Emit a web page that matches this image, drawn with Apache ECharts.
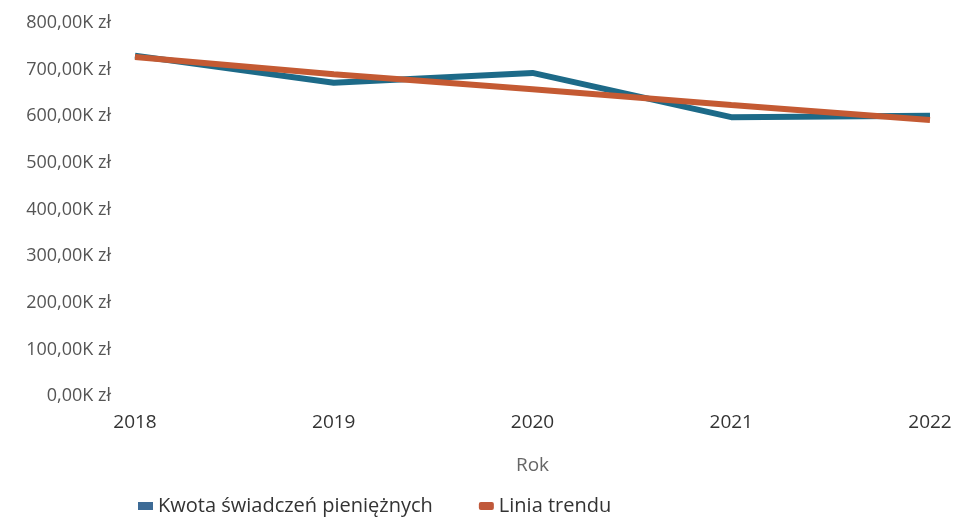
<!DOCTYPE html>
<html><head><meta charset="utf-8">
<script src="https://cdn.jsdelivr.net/npm/echarts@6/dist/echarts.min.js"></script>
<style>html,body{margin:0;padding:0;background:#fff}#c{width:956px;height:521px}</style>
</head><body><div id="c"></div>
<script>
const categories = ['2018','2019','2020','2021','2022'];
const kwota = [730000, 672000, 693000, 598000, 601000];
const trend = [727000, 690000, 658000, 624000, 592000];
const yTicks = [0,100000,200000,300000,400000,500000,600000,700000,800000];

const chart = echarts.init(document.getElementById('c'));
const fmt = v => (v/1000).toFixed(2).replace('.', ',') + 'K zł';
chart.setOption({
  animation:false,
  textStyle:{fontFamily:'Open Sans'},
  grid:{left:135, right:26, top:23, bottom:125, containLabel:false},
  legend:{
    left:133, bottom:0, itemWidth:15, itemHeight:8, itemGap:46,
    textStyle:{fontSize:20, color:'#333', fontFamily:'Open Sans'},
    data:[{name:'Kwota świadczeń pieniężnych', icon:'rect'},{name:'Linia trendu', icon:'roundRect'}]
  },
  xAxis:{
    type:'category', data:categories, boundaryGap:false,
    name:'Rok', nameLocation:'middle', nameGap:60,
    nameTextStyle:{fontSize:19, color:'#666'},
    axisLine:{show:false}, axisTick:{show:false},
    axisLabel:{fontSize:19, color:'#333', margin:17}
  },
  yAxis:{
    type:'value', min:yTicks[0], max:yTicks[yTicks.length-1], interval:100000,
    axisLine:{show:false}, axisTick:{show:false},
    splitLine:{show:false},
    axisLabel:{fontSize:18, color:'#555', margin:24, formatter:fmt}
  },
  series:[
    {name:'Kwota świadczeń pieniężnych', type:'line', data:kwota, symbol:'none',
     lineStyle:{width:6, color:'#1d6a88'}, itemStyle:{color:'#3d6b96'}, z:2},
    {name:'Linia trendu', type:'line', data:trend, symbol:'none',
     lineStyle:{width:6, color:'#c45a33'}, itemStyle:{color:'#c0583a'}, z:3}
  ]
});
</script></body></html>
